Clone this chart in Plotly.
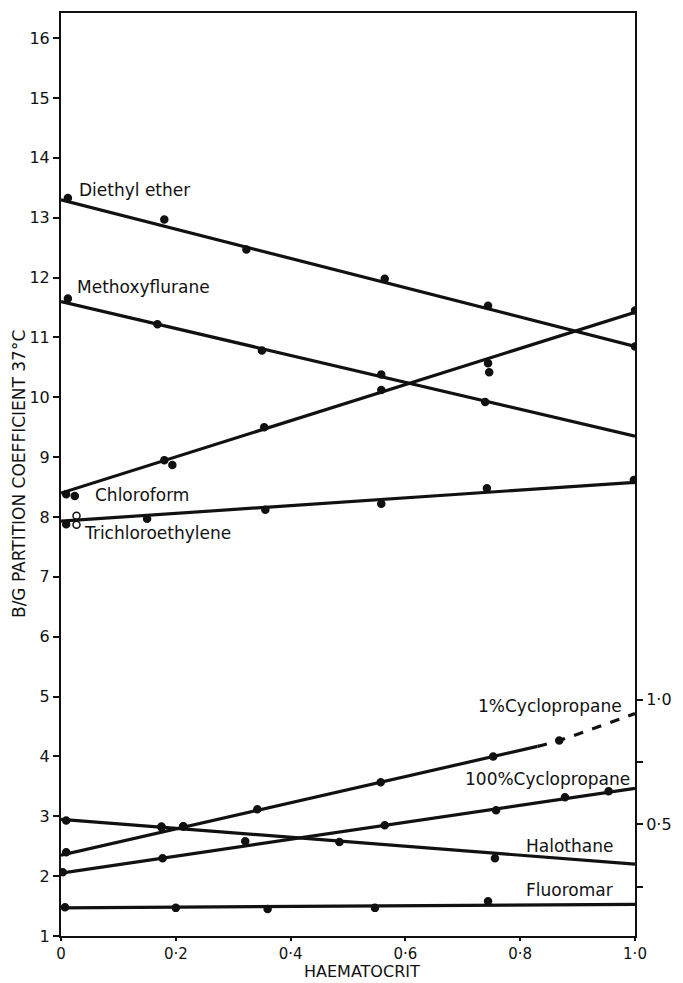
import plotly.graph_objects as go

# Haematocrit (fraction) of each measured sample
# Blood/gas partition coefficients at 37 °C, left scale
ether_x = [0.012, 0.18, 0.323, 0.564, 0.744, 1.0]
ether_y = [13.33, 12.97, 12.47, 11.98, 11.53, 10.85]

methoxy_x = [0.012, 0.168, 0.35, 0.558, 0.739]
methoxy_y = [11.65, 11.22, 10.78, 10.38, 9.92]

chloro_x = [0.009, 0.024, 0.18, 0.194, 0.354, 0.558, 0.744, 0.746, 1.0]
chloro_y = [8.38, 8.35, 8.95, 8.87, 9.50, 10.12, 10.57, 10.42, 11.45]

trichlor_x = [0.009, 0.15, 0.356, 0.558, 0.742, 0.998]
trichlor_y = [7.88, 7.97, 8.12, 8.22, 8.48, 8.62]
trichlor_open_x = [0.027, 0.027]
trichlor_open_y = [8.02, 7.87]

halo_x = [0.009, 0.175, 0.213, 0.485, 0.756]
halo_y = [2.93, 2.83, 2.83, 2.57, 2.30]

fluoro_x = [0.007, 0.2, 0.36, 0.547, 0.744]
fluoro_y = [1.48, 1.47, 1.45, 1.47, 1.58]

# Cyclopropane, right-hand scale
cyc1_x = [0.009, 0.175, 0.213, 0.342, 0.557, 0.753, 0.868]
cyc1_y = [0.388, 0.488, 0.492, 0.560, 0.668, 0.772, 0.836]

cyc100_x = [0.003, 0.177, 0.321, 0.564, 0.758, 0.878, 0.954]
cyc100_y = [0.308, 0.364, 0.432, 0.496, 0.556, 0.608, 0.632]

# Fitted lines: value at haematocrit 0 and 1
line_ends = {
    "ether": (13.30, 10.85),
    "methoxy": (11.60, 9.35),
    "chloro": (8.40, 11.42),
    "trichlor": (7.93, 8.58),
    "halo": (2.95, 2.20),
    "fluoro": (1.47, 1.53),
    "cyc100": (0.304, 0.644),
}
# 1% cyclopropane: solid fit up to 0.83, then dashed extrapolation
cyc1_solid_x = [0.0, 0.83]
cyc1_solid_y = [0.376, 0.812]
cyc1_dash_x = [0.83, 0.868, 1.0]
cyc1_dash_y = [0.812, 0.836, 0.944]

x_ticks = [0, 0.2, 0.4, 0.6, 0.8, 1.0]
x_ticktext = ["0", "0·2", "0·4", "0·6", "0·8", "1·0"]
y_ticks = list(range(1, 17))
y2_ticks = [0.25, 0.5, 0.75, 1.0]
y2_ticktext = ["", "0·5", "", "1·0"]

FONT = "DejaVu Sans"
INK = "#111111"
LW = 3.2
MS = 7

fig = go.Figure()

def fit_line(key, yaxis="y"):
    a, b = line_ends[key]
    fig.add_trace(go.Scatter(x=[0, 1], y=[a, b], mode="lines", yaxis=yaxis,
                             line=dict(color=INK, width=LW), hoverinfo="skip"))

def dots(xs, ys, yaxis="y", symbol="circle"):
    fig.add_trace(go.Scatter(x=xs, y=ys, mode="markers", yaxis=yaxis,
                             marker=dict(color=INK, size=MS, symbol=symbol,
                                         line=dict(color=INK, width=1.5))))

for k in ["ether", "methoxy", "chloro", "trichlor", "halo", "fluoro"]:
    fit_line(k)
fit_line("cyc100", "y2")
fig.add_trace(go.Scatter(x=cyc1_solid_x, y=cyc1_solid_y, mode="lines", yaxis="y2",
                         line=dict(color=INK, width=LW)))
fig.add_trace(go.Scatter(x=cyc1_dash_x, y=cyc1_dash_y, mode="lines", yaxis="y2",
                         line=dict(color=INK, width=LW, dash="dash", shape="spline")))

dots(ether_x, ether_y)
dots(methoxy_x, methoxy_y)
dots(chloro_x, chloro_y)
dots(trichlor_x, trichlor_y)
dots(trichlor_open_x, trichlor_open_y, symbol="circle-open")
dots(halo_x, halo_y)
dots(fluoro_x, fluoro_y)
dots(cyc1_x, cyc1_y, "y2")
dots(cyc100_x, cyc100_y, "y2")

labels = [
    ("Diethyl ether", 0.027, 13.47),
    ("Methoxyflurane", 0.025, 11.85),
    ("Chloroform", 0.055, 8.37),
    ("Trichloroethylene", 0.036, 7.73),
    ("1%Cyclopropane", 0.723, 4.85),
    ("100%Cyclopropane", 0.700, 3.63),
    ("Halothane", 0.806, 2.50),
    ("Fluoromar", 0.806, 1.77),
]
for text, lx, ly in labels:
    fig.add_annotation(x=lx, y=ly, text=text, showarrow=False, xanchor="left",
                       yanchor="middle", font=dict(family=FONT, size=17, color=INK))

fig.add_annotation(xref="paper", yref="paper", x=-0.074, y=0.5,
                   text="B/G PARTITION COEFFICIENT 37°C", textangle=-90,
                   showarrow=False, xanchor="center", yanchor="middle",
                   font=dict(family=FONT, size=17, color=INK))
fig.add_annotation(xref="paper", yref="paper", x=0.525, y=-0.039,
                   text="HAEMATOCRIT", showarrow=False, xanchor="center",
                   yanchor="middle", font=dict(family=FONT, size=16, color=INK))

axis_common = dict(showgrid=False, zeroline=False, showline=True, linecolor=INK,
                   linewidth=2, ticks="outside", ticklen=6, tickwidth=1.5,
                   tickcolor=INK, tickfont=dict(family=FONT, size=16, color=INK))

fig.update_layout(
    width=683, height=983,
    margin=dict(l=61, r=38, t=11, b=47),
    paper_bgcolor="white", plot_bgcolor="white",
    showlegend=False,
    xaxis=dict(range=[0, 1.0], tickvals=x_ticks, ticktext=x_ticktext,
               mirror=True, **{**axis_common, "ticklen": 3,
                               "tickfont": dict(family=FONT, size=15, color=INK)}),
    yaxis=dict(range=[1, 16.42], tickvals=y_ticks, **axis_common),
    yaxis2=dict(range=[0.052, 3.752], overlaying="y", side="right",
                tickvals=y2_ticks, ticktext=y2_ticktext, **axis_common),
)

fig.write_html("out.html")
